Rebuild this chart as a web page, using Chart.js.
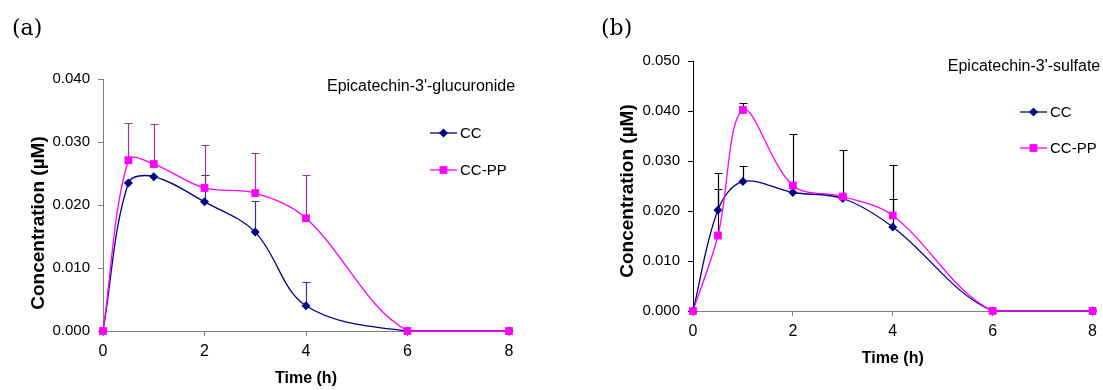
<!DOCTYPE html>
<html>
<head>
<meta charset="utf-8">
<script src="https://cdn.jsdelivr.net/npm/chart.js@4.4.1/dist/chart.umd.min.js"></script>
<style>
  body { margin: 0; background: #fff; }
  #wrap { position: relative; width: 1103px; height: 390px; overflow: hidden; }
  canvas { position: absolute; top: 0; }
</style>
</head>
<body>
<div id="wrap">
  <canvas id="chartA" width="560" height="390" style="left:0"></canvas>
  <canvas id="chartB" width="543" height="390" style="left:560px"></canvas>
</div>
<script>
const timePoints = [0, 0.5, 1, 2, 3, 4, 6, 8]
const seriesNames = ['CC', 'CC-PP']

// (a) Epicatechin-3'-glucuronide, mean and upper SD
const glucCC = [0, 0.0235, 0.0245, 0.0205, 0.0157, 0.0040, 0, 0]
const glucCCsd = [null, null, null, 0.0043, 0.0050, 0.0037, null, null]
const glucPP = [0, 0.0271, 0.0265, 0.0227, 0.0219, 0.0179, 0, 0]
const glucPPsd = [null, 0.0059, 0.0064, 0.0068, 0.0064, 0.0069, null, null]

// (b) Epicatechin-3'-sulfate
const sulfCC = [0, 0.0202, 0.0259, 0.0237, 0.0225, 0.0168, 0, 0]
const sulfCCsd = [null, 0.0043, 0.0032, null, null, 0.0057, null, null]
const sulfPP = [0, 0.0151, 0.0402, 0.0251, 0.0229, 0.0191, 0, 0]
const sulfPPsd = [null, 0.0126, 0.0015, 0.0103, 0.0094, 0.0101, null, null]

const FONT = '"Liberation Sans", Arial, sans-serif'
const CC_COLOR = '#000080'
const PP_COLOR = '#ff00ff'

// upward-only error bars with caps
const errorBars = {
  id: 'errorBars',
  beforeDatasetsDraw(chart) {
    const { ctx, scales: { x, y } } = chart
    chart.data.datasets.forEach(ds => {
      if (!ds.sd) return
      ctx.save()
      ctx.strokeStyle = ds.errColor
      ctx.lineWidth = 1.2
      ds.data.forEach((pt, i) => {
        const sd = ds.sd[i]
        if (sd == null) return
        const px = Math.round(x.getPixelForValue(pt.x)) + 0.5
        const y0 = y.getPixelForValue(pt.y)
        const y1 = Math.round(y.getPixelForValue(pt.y + sd)) + 0.5
        ctx.beginPath()
        ctx.moveTo(px, y0)
        ctx.lineTo(px, y1)
        ctx.moveTo(px - 4, y1)
        ctx.lineTo(px + 4, y1)
        ctx.stroke()
      })
      ctx.restore()
    })
  },
}

// panel letter, inner title, legend and rotated y title
const panelText = {
  id: 'panelText',
  afterDraw(chart, args, opts) {
    const { ctx } = chart
    ctx.save()
    ctx.fillStyle = '#000'
    ctx.textBaseline = 'middle'

    ctx.font = '22px "DejaVu Serif", serif'
    ctx.textAlign = 'left'
    ctx.fillText(opts.letter, opts.letterX, 29)

    ctx.font = `16px ${FONT}`
    ctx.textAlign = 'center'
    ctx.fillText(opts.title, opts.titleX, opts.titleY)

    ctx.font = `15px ${FONT}`
    ctx.textAlign = 'left'
    chart.data.datasets.forEach((ds, i) => {
      const ly = opts.legendY[i]
      ctx.strokeStyle = ds.borderColor
      ctx.lineWidth = 1.3
      ctx.beginPath()
      ctx.moveTo(opts.legendX, ly)
      ctx.lineTo(opts.legendX + 27, ly)
      ctx.stroke()
      ctx.fillStyle = ds.pointBackgroundColor
      Chart.helpers.drawPoint(ctx, { pointStyle: ds.pointStyle, radius: ds.pointRadius, rotation: 0, borderWidth: 0 }, opts.legendX + 13.5, ly)
      ctx.fillStyle = '#000'
      ctx.fillText(ds.label, opts.legendX + 30, ly + 1)
    })

    ctx.font = `bold 19px ${FONT}`
    ctx.translate(opts.yTitleX, opts.yTitleY)
    ctx.rotate(-Math.PI / 2)
    ctx.textAlign = 'center'
    ctx.fillText('Concentration (µM)', 0, 0)
    ctx.restore()
  },
}

function toPoints(values) {
  return values.map((v, i) => ({ x: timePoints[i], y: v }))
}

function makeChart(id, p) {
  const ctx = document.getElementById(id)
  return new Chart(ctx, {
    type: 'line',
    data: {
      datasets: [
        {
          label: seriesNames[0],
          data: toPoints(p.cc),
          sd: p.ccSd,
          errColor: p.ccErrColor,
          borderColor: CC_COLOR,
          backgroundColor: CC_COLOR,
          pointBackgroundColor: CC_COLOR,
          pointBorderWidth: 0,
          pointStyle: 'rectRot',
          pointRadius: 4.5,
          borderWidth: 1.3,
          tension: 0.35,
          clip: false,
          order: 1,
        },
        {
          label: seriesNames[1],
          data: toPoints(p.pp),
          sd: p.ppSd,
          errColor: p.ppErrColor,
          borderColor: PP_COLOR,
          backgroundColor: PP_COLOR,
          pointBackgroundColor: PP_COLOR,
          pointBorderWidth: 0,
          pointStyle: 'rect',
          pointRadius: 5.5,
          borderWidth: 1.3,
          tension: 0.35,
          clip: false,
          order: 0,
        },
      ],
    },
    options: {
      responsive: false,
      animation: false,
      layout: { padding: { left: 0, top: p.top, right: p.right, bottom: 0 } },
      scales: {
        x: {
          type: 'linear',
          min: 0,
          max: 8,
          afterFit: s => { s.height = p.xHeight },
          ticks: { stepSize: 2, color: '#000', font: { family: FONT, size: 16 }, padding: 6, maxRotation: 0 },
          grid: { drawOnChartArea: false, tickLength: 5, color: '#808080' },
          border: { color: '#808080' },
          title: {
            display: true,
            text: 'Time (h)',
            color: '#000',
            font: { family: FONT, size: 16, weight: 'bold' },
            padding: { top: 0, bottom: p.xTitlePad },
          },
        },
        y: {
          min: 0,
          max: p.yMax,
          afterFit: s => { s.width = p.yWidth },
          ticks: { stepSize: 0.01, color: '#000', font: { family: FONT, size: 15 }, padding: 8, callback: v => v.toFixed(3) },
          grid: { drawOnChartArea: false, tickLength: 5, color: p.yAxisColor },
          border: { color: p.yAxisColor },
        },
      },
      plugins: {
        legend: { display: false },
        tooltip: { enabled: false },
        panelText: p.text,
      },
    },
    plugins: [errorBars, panelText],
  })
}

makeChart('chartA', {
  cc: glucCC, ccSd: glucCCsd, pp: glucPP, ppSd: glucPPsd,
  ccErrColor: '#333399', ppErrColor: '#993399',
  yMax: 0.04, top: 79, right: 51, yWidth: 103, xHeight: 59, xTitlePad: 2,
  yAxisColor: '#808080',
  text: {
    letter: '(a)', letterX: 12,
    title: "Epicatechin-3'-glucuronide", titleX: 421, titleY: 87,
    legendX: 430, legendY: [133, 170],
    yTitleX: 39, yTitleY: 223,
  },
})

makeChart('chartB', {
  cc: sulfCC, ccSd: sulfCCsd, pp: sulfPP, ppSd: sulfPPsd,
  ccErrColor: '#000', ppErrColor: '#000',
  yMax: 0.05, top: 61, right: 6, yWidth: 133, xHeight: 79, xTitlePad: 22,
  yAxisColor: '#000',
  text: {
    letter: '(b)', letterX: 41,
    title: "Epicatechin-3'-sulfate", titleX: 464, titleY: 67,
    legendX: 460, legendY: [112, 148],
    yTitleX: 68, yTitleY: 191,
  },
})
</script>
</body>
</html>
